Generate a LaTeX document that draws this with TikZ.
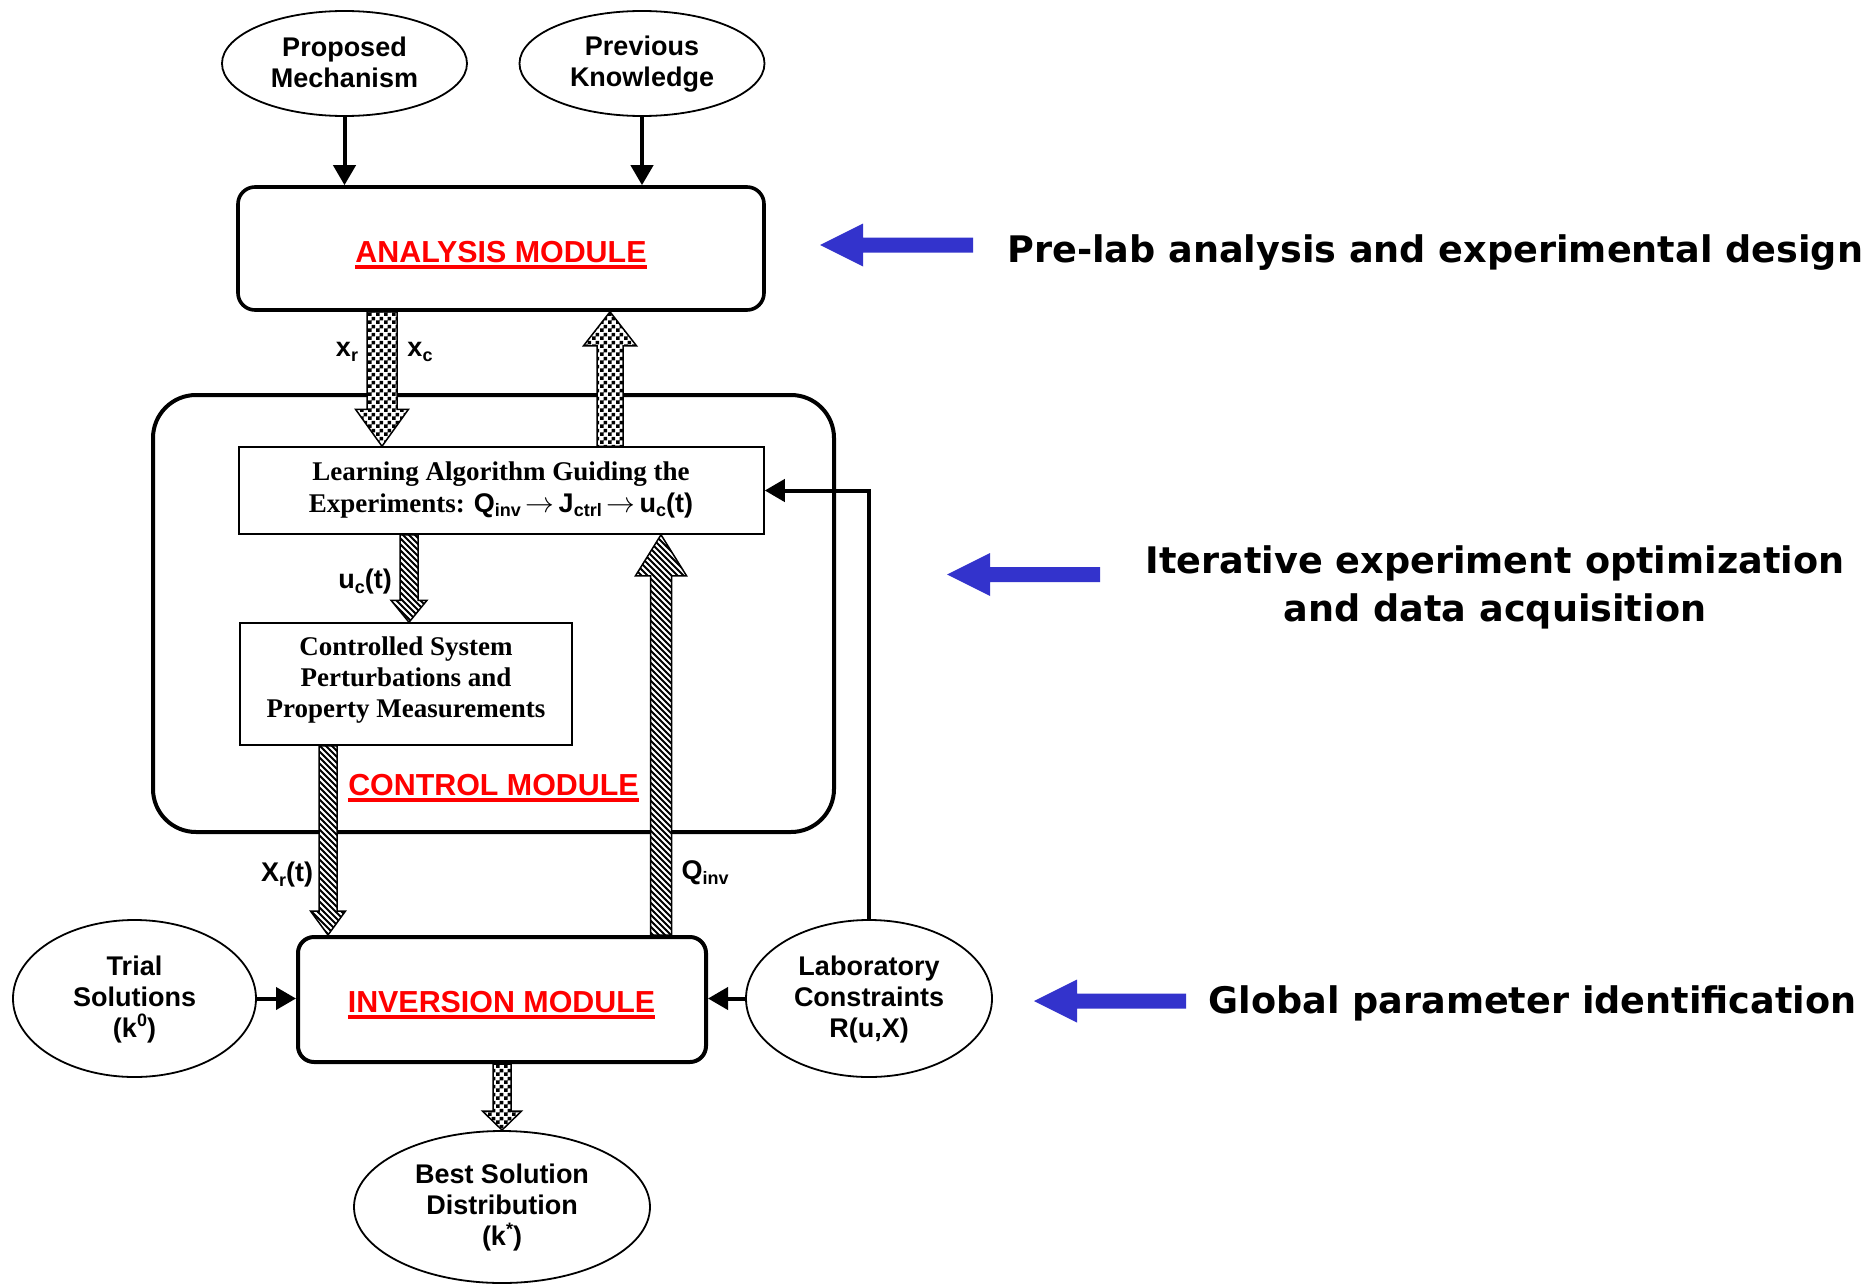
\documentclass[tikz,border=0pt]{standalone}
\usepackage{fontspec}
\setmainfont{Liberation Sans}
\newfontfamily\timesf{Liberation Serif}
\newfontfamily\sansf{Liberation Sans}
\newfontfamily\dejaf{DejaVu Sans}
\usetikzlibrary{arrows.meta,shapes.geometric,fit,calc,patterns}
\definecolor{pblue}{RGB}{51,51,204}
\definecolor{mred}{RGB}{255,0,0}

\newcommand\sbs[1]{\raisebox{-0.35ex}{\fontsize{9}{9}\selectfont #1}}
\newcommand\sps[1]{\raisebox{0.75ex}{\fontsize{9}{9}\selectfont #1}}
\newsavebox\ulbox
\newcommand\redul[1]{\sbox\ulbox{#1}\rlap{\rule[-3.3pt]{\wd\ulbox}{1.6pt}}\usebox\ulbox}
\newcommand\rarr{\,$\rightarrow$\,}
\newcommand\est{\rule[-2pt]{0pt}{12.5pt}}

\pgfdeclarepatternformonly{finecheck}{\pgfqpoint{0pt}{0pt}}{\pgfqpoint{4pt}{4pt}}{\pgfqpoint{4pt}{4pt}}{%
 \pgfpathrectangle{\pgfqpoint{0pt}{0pt}}{\pgfqpoint{2pt}{2pt}}%
 \pgfpathrectangle{\pgfqpoint{2pt}{2pt}}{\pgfqpoint{2pt}{2pt}}%
 \pgfusepath{fill}}
\pgfdeclarepatternformonly{finehatch}{\pgfqpoint{-0.5pt}{-0.5pt}}{\pgfqpoint{3.5pt}{3.5pt}}{\pgfqpoint{3pt}{3pt}}{%
 \pgfsetlinewidth{1pt}%
 \pgfpathmoveto{\pgfqpoint{-0.1pt}{3.1pt}}%
 \pgfpathlineto{\pgfqpoint{3.1pt}{-0.1pt}}%
 \pgfusepath{stroke}}

% fat vertical arrow: style, start, tip, shaft half width, head half width, head length
\newcommand\fatarrow[6]{%
 \path[#1] let \p1=(#2), \p2=(#3), \p3=($(#3)!#6!(#2)$) in
  (\x1-#4,\y1) -- (\x1-#4,\y3) -- (\x1-#5,\y3) -- (\x1,\y2) -- (\x1+#5,\y3)
  -- (\x1+#4,\y3) -- (\x1+#4,\y1) -- cycle;}
% blue horizontal pointer: tail, tip
\newcommand\bluearrow[2]{%
 \fill[pblue] let \p1=(#1), \p2=(#2), \p3=($(#2)!21.5pt!(#1)$) in
  (\x1,\y1+3.75pt) -- (\x3,\y1+3.75pt) -- (\x3,\y1+10.75pt) -- (\x2,\y2)
  -- (\x3,\y1-10.75pt) -- (\x3,\y1-3.75pt) -- (\x1,\y1-3.75pt) -- cycle;}

\begin{document}
\begin{tikzpicture}[x=0.5pt,y=-0.5pt,
 lbl/.style={font=\fontsize{13.5}{15.5}\selectfont\bfseries, align=center, inner sep=0pt},
 ell/.style={ellipse, draw, line width=0.9pt, inner sep=0pt, lbl},
 modbox/.style={rectangle, draw, inner sep=0pt},
 modlabel/.style={font=\fontsize{15.2}{18}\selectfont\bfseries, text=mred, inner sep=0pt, anchor=base},
 serifbox/.style={rectangle, draw, line width=0.75pt, fill=white, inner sep=0pt},
 seriftext/.style={inner sep=0pt, align=center, font=\fontsize{13.5}{#1}\selectfont\timesf\bfseries},
 blk/.style={line width=2pt, -{Triangle[width=11pt,length=10pt]}},
 checkfat/.style={draw, line width=0.75pt, preaction={fill=white}, pattern=finecheck},
 hatchfat/.style={draw, line width=0.75pt, preaction={fill=white}, pattern=finehatch},
 side/.style={font=\fontsize{18.3}{24}\selectfont\dejaf\bfseries, inner sep=0pt}]
\useasboundingbox[fill=white] (0,0) rectangle (1863,1284);

% modules and boxes
\node[modbox, rounded corners=21.5pt, line width=2pt, fit={(153,395)(834,832)}] (ctrl) {};
\node[modbox, rounded corners=8.5pt, line width=1.8pt, fit={(238,187)(764,310)}] (ana) {};
\node[modbox, rounded corners=8pt, line width=2pt, fit={(298,937)(706,1062)}] (inv) {};
\node[serifbox, fit={(239,447)(764,534)}] (learn) {};
\node[seriftext=16pt] (learntxt) at (501,489.6)
 {\strut Learning Algorithm Guiding the\\\strut Experiments: {\sansf Q\sbs{inv}\rarr J\sbs{ctrl}\rarr u\sbs{c}(t)}};
\node[serifbox, fit={(240,623)(572,745)}] (sys) {};
\node[seriftext=15.5pt] (systxt) at (406,679.8)
 {\strut Controlled System\\\strut Perturbations and\\\strut Property Measurements};

% ellipses
\node[ell, minimum width=122.5pt, minimum height=52.5pt] (prop) at (344.5,63.5) {\est Proposed\\\est Mechanism};
\node[ell, minimum width=122.5pt, minimum height=52.5pt] (prev) at (642,63.5) {\est Previous\\\est Knowledge};
\node[ell, minimum width=121.5pt, minimum height=78.5pt] (trial) at (134.5,998.5) {\est Trial\\\est Solutions\\\est (k\sps{0})};
\node[ell, minimum width=123pt, minimum height=78.5pt] (lab) at (869,998.5) {\est Laboratory\\\est Constraints\\\est R(u,X)};
\node[ell, minimum width=148pt, minimum height=76pt] (best) at (502,1207) {\est Best Solution\\\est Distribution\\\est (k\sps{*})};

% module titles
\node[modlabel] (analbl) at (501,262) {\redul{ANALYSIS MODULE}};
\node[modlabel] (ctrllbl) at (493.5,795) {\redul{CONTROL MODULE}};
\node[modlabel] (invlbl) at (501.5,1012) {\redul{INVERSION MODULE}};

% fat arrows
\coordinate (fa1) at (382,0);
\coordinate (fa2) at (610,0);
\coordinate (fa3) at (409,0);
\coordinate (fa4) at (661,0);
\coordinate (fa5) at (328,0);
\coordinate (fa6) at (502,0);
\fatarrow{checkfat}{fa1 |- ana.south}{fa1 |- learn.north}{7.5pt}{13.25pt}{18.5pt}
\fatarrow{checkfat}{fa2 |- learn.north}{fa2 |- ana.south}{6.5pt}{13.25pt}{17pt}
\fatarrow{hatchfat}{fa3 |- learn.south}{fa3 |- sys.north}{4.5pt}{9pt}{11pt}
\fatarrow{hatchfat}{fa4 |- inv.north}{fa4 |- learn.south}{5.25pt}{12.75pt}{20.5pt}
\fatarrow{hatchfat}{fa5 |- sys.south}{fa5 |- inv.north}{4.5pt}{8.75pt}{12pt}
\fatarrow{checkfat}{fa6 |- inv.south}{fa6 |- best.north}{4.5pt}{9.75pt}{9.5pt}

% black arrows
\draw[blk] (prop.south) -- (prop.south |- ana.north);
\draw[blk] (prev.south) -- (prev.south |- ana.north);
\draw[blk] (trial.east) -- (trial.east -| inv.west);
\draw[blk] (lab.west) -- (lab.west -| inv.east);
\draw[blk] (lab.north) |- (learn.east);

% arrow labels
\node[lbl] (lxr) at (347,352) {x\sbs{r}};
\node[lbl] (lxc) at (420,352) {x\sbs{c}};
\node[lbl] (luc) at (365,582) {u\sbs{c}(t)};
\node[lbl] (lXr) at (287,875) {X\sbs{r}(t)};
\node[lbl] (lQ) at (705,873) {Q\sbs{inv}};

% right-hand annotations
\coordinate (b1tail) at (973,245);
\coordinate (b1tip) at (820,245);
\coordinate (b2tail) at (1100,574.5);
\coordinate (b2tip) at (947,574.5);
\coordinate (b3tail) at (1186,1001);
\coordinate (b3tip) at (1034,1001);
\bluearrow{b1tail}{b1tip}
\bluearrow{b2tail}{b2tip}
\bluearrow{b3tail}{b3tip}
\node[side, anchor=base west] (t1) at (1007,262) {Pre-lab analysis and experimental design};
\node[side, anchor=base] (t2a) at (1495,573) {Iterative experiment optimization};
\node[side, anchor=base] (t2b) at (1495,621) {and data acquisition};
\node[side, anchor=base west] (t3) at (1208,1013) {Global parameter identification};
\end{tikzpicture}
\end{document}
